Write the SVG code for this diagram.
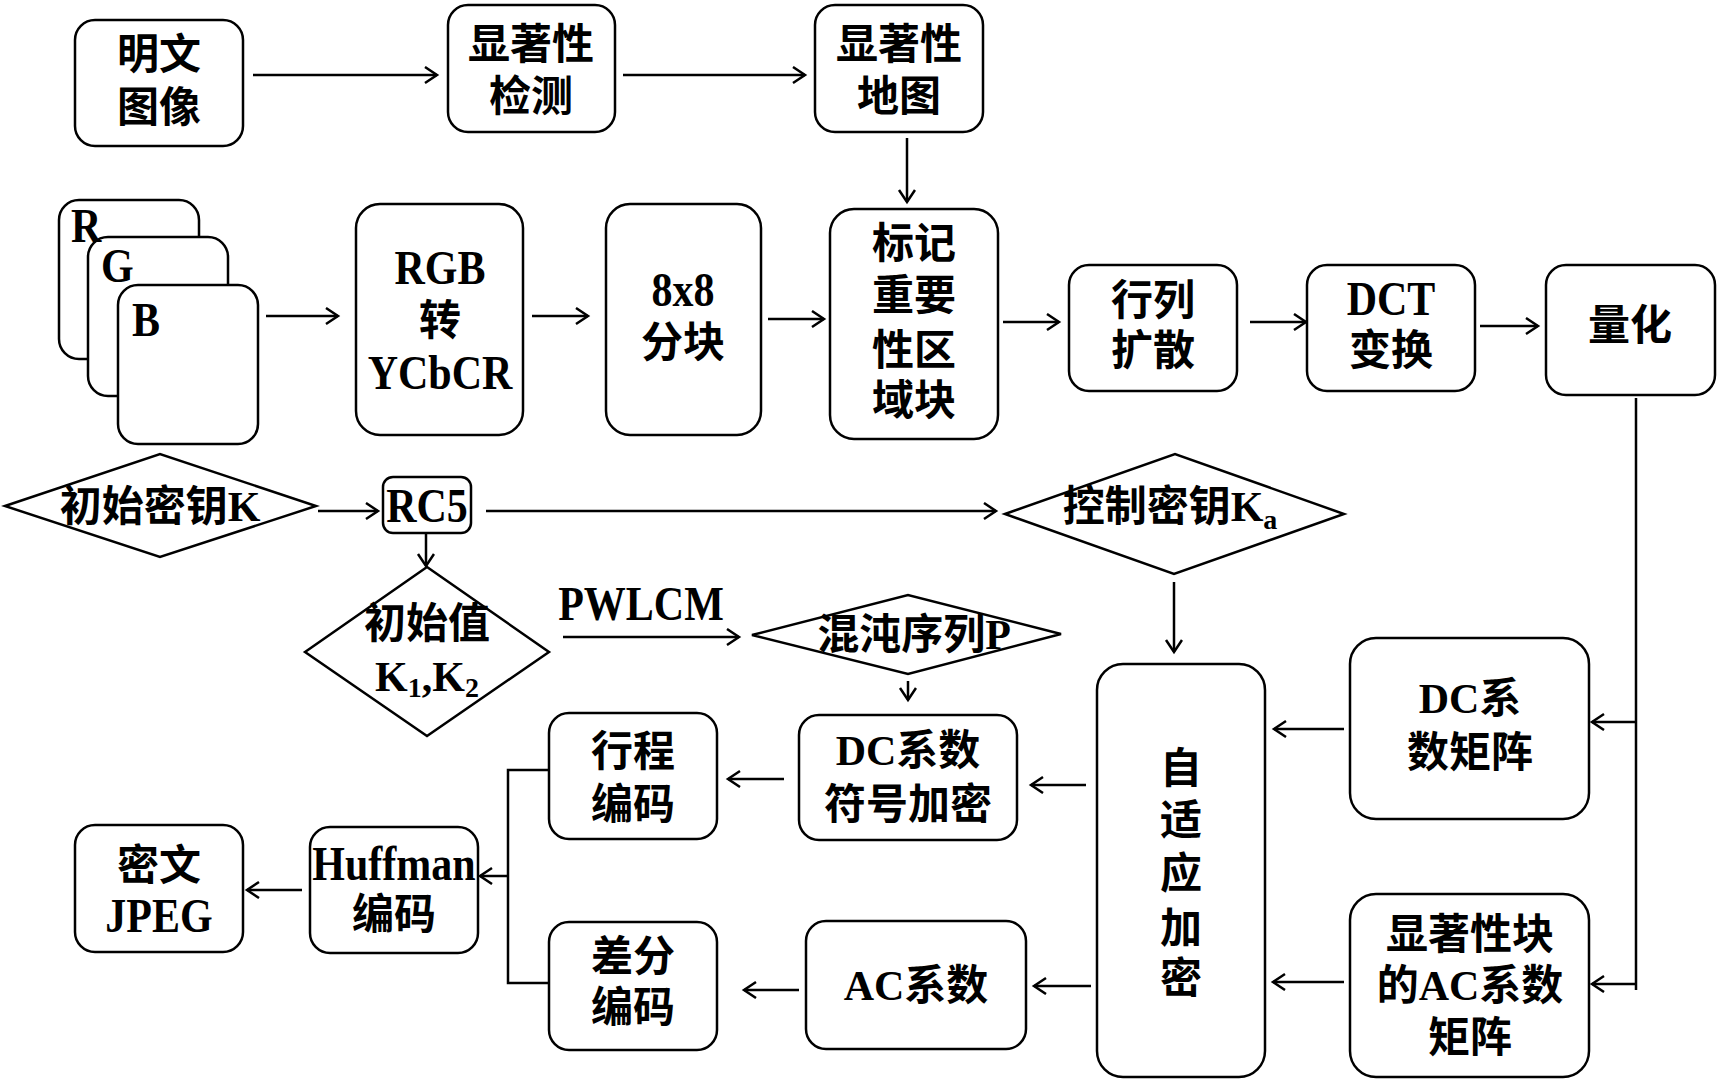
<svg xmlns="http://www.w3.org/2000/svg" width="1722" height="1083" viewBox="0 0 1722 1083">
<style>
.b{fill:#fff;stroke:#000;stroke-width:2.5}
.c{fill:none;stroke:#000;stroke-width:2.5}
.t{font-family:"Liberation Serif","Noto Sans CJK SC",serif;font-weight:bold;font-size:42px;text-anchor:middle;dominant-baseline:central;fill:#000}
.l{font-family:"Liberation Serif",serif;font-weight:bold;font-size:42px;fill:#000}
.v{transform-box:fill-box;transform-origin:center;transform:scaleY(1.15)}
</style>
<defs>
<marker id="a" markerUnits="userSpaceOnUse" markerWidth="20" markerHeight="20" refX="13" refY="9" orient="auto">
<path d="M1,1 L13,9 L1,17" fill="none" stroke="#000" stroke-width="2.5"/>
</marker>
</defs>
<rect width="1722" height="1083" fill="#fff"/>
<g id="connectors" class="c">
<line x1="253" y1="75" x2="437" y2="75" marker-end="url(#a)"/>
<line x1="623" y1="75" x2="805" y2="75" marker-end="url(#a)"/>
<line x1="907" y1="138" x2="907" y2="202" marker-end="url(#a)"/>
<line x1="266" y1="316" x2="338" y2="316" marker-end="url(#a)"/>
<line x1="532" y1="316" x2="588" y2="316" marker-end="url(#a)"/>
<line x1="768" y1="319" x2="824" y2="319" marker-end="url(#a)"/>
<line x1="1003" y1="322" x2="1059" y2="322" marker-end="url(#a)"/>
<line x1="1250" y1="322" x2="1306" y2="322" marker-end="url(#a)"/>
<line x1="1480" y1="326" x2="1538" y2="326" marker-end="url(#a)"/>
<line x1="318" y1="511" x2="378" y2="511" marker-end="url(#a)"/>
<line x1="486" y1="511" x2="996" y2="511" marker-end="url(#a)"/>
<line x1="426" y1="533" x2="426" y2="566" marker-end="url(#a)"/>
<line x1="563" y1="637" x2="739" y2="637" marker-end="url(#a)"/>
<line x1="908" y1="681" x2="908" y2="700" marker-end="url(#a)"/>
<line x1="1174" y1="582" x2="1174" y2="652" marker-end="url(#a)"/>
<polyline points="1636,398 1636,990"/>
<line x1="1636" y1="722" x2="1592" y2="722" marker-end="url(#a)"/>
<line x1="1636" y1="984" x2="1592" y2="984" marker-end="url(#a)"/>
<line x1="1344" y1="729" x2="1274" y2="729" marker-end="url(#a)"/>
<line x1="1344" y1="982" x2="1273" y2="982" marker-end="url(#a)"/>
<line x1="1086" y1="785" x2="1031" y2="785" marker-end="url(#a)"/>
<line x1="1091" y1="986" x2="1034" y2="986" marker-end="url(#a)"/>
<line x1="784" y1="779" x2="728" y2="779" marker-end="url(#a)"/>
<line x1="799" y1="990" x2="744" y2="990" marker-end="url(#a)"/>
<polyline points="549,770 508,770 508,983 549,983"/>
<line x1="508" y1="876" x2="480" y2="876" marker-end="url(#a)"/>
<line x1="302" y1="890" x2="247" y2="890" marker-end="url(#a)"/>
</g>
<g id="n_plain"><rect class="b" x="75" y="20" width="168" height="126" rx="20"/><text class="t" x="159" y="55">明文</text><text class="t" x="159" y="108">图像</text></g>
<g id="n_detect"><rect class="b" x="448" y="5" width="167" height="127" rx="20"/><text class="t" x="531" y="45">显著性</text><text class="t" x="531" y="97">检测</text></g>
<g id="n_map"><rect class="b" x="815" y="5" width="168" height="127" rx="20"/><text class="t" x="899" y="45">显著性</text><text class="t" x="899" y="97">地图</text></g>
<g id="n_rgbstack">
<rect class="b" x="59" y="200" width="140" height="159" rx="20"/>
<rect class="b" x="88" y="237" width="140" height="159" rx="20"/>
<rect class="b" x="118" y="285" width="140" height="159" rx="20"/>
<text class="l v" x="71" y="240">R</text><text class="l v" x="101" y="280">G</text><text class="l v" x="132" y="334">B</text>
</g>
<g id="n_rgb"><rect class="b" x="356" y="204" width="167" height="231" rx="24"/><text class="t v" x="440" y="268">RGB</text><text class="t" x="440" y="321">转</text><text class="t v" x="440" y="373">YCbCR</text></g>
<g id="n_block"><rect class="b" x="606" y="204" width="155" height="231" rx="24"/><text class="t v" x="683" y="290">8x8</text><text class="t" x="683" y="343">分块</text></g>
<g id="n_mark"><rect class="b" x="830" y="209" width="168" height="230" rx="24"/><text class="t" x="914" y="244">标记</text><text class="t" x="914" y="296">重要</text><text class="t" x="914" y="351">性区</text><text class="t" x="914" y="401">域块</text></g>
<g id="n_diff"><rect class="b" x="1069" y="265" width="168" height="126" rx="20"/><text class="t" x="1153" y="301">行列</text><text class="t" x="1153" y="351">扩散</text></g>
<g id="n_dct"><rect class="b" x="1307" y="265" width="168" height="126" rx="20"/><text class="t v" x="1391" y="299">DCT</text><text class="t" x="1391" y="351">变换</text></g>
<g id="n_quant"><rect class="b" x="1546" y="265" width="169" height="130" rx="20"/><text class="t" x="1630" y="326">量化</text></g>
<g id="n_key"><polygon class="b" points="5,506 160,454 316,506 160,557"/><text class="t" x="160" y="507">初始密钥K</text></g>
<g id="n_rc5"><rect class="b" x="383" y="477" width="88" height="56" rx="10"/><text class="t v" x="427" y="506">RC5</text></g>
<g id="n_ctrl"><polygon class="b" points="1005,514 1175,454 1344,514 1174,574"/><text class="t" x="1170" y="507">控制密钥K<tspan font-size="28" dy="12">a</tspan></text></g>
<g id="n_init"><polygon class="b" points="305,652 427,567 549,652 427,736"/><text class="t" x="427" y="624">初始值</text><text class="t" x="427" y="677">K<tspan font-size="28" dy="10">1</tspan><tspan dy="-10">,K</tspan><tspan font-size="28" dy="10">2</tspan></text></g>
<text id="lbl_pwlcm" class="t v" x="641" y="604">PWLCM</text>
<g id="n_chaos"><polygon class="b" points="752,635 908,595 1061,634 908,674"/><text class="t" x="914" y="635">混沌序列P</text></g>
<g id="n_rle"><rect class="b" x="549" y="713" width="168" height="126" rx="20"/><text class="t" x="633" y="752">行程</text><text class="t" x="633" y="805">编码</text></g>
<g id="n_dcsign"><rect class="b" x="799" y="715" width="218" height="125" rx="20"/><text class="t" x="908" y="751">DC系数</text><text class="t" x="908" y="805">符号加密</text></g>
<g id="n_adapt"><rect class="b" x="1097" y="664" width="168" height="413" rx="26"/><text class="t" x="1181" y="769">自</text><text class="t" x="1181" y="821">适</text><text class="t" x="1181" y="874">应</text><text class="t" x="1181" y="929">加</text><text class="t" x="1181" y="979">密</text></g>
<g id="n_dcm"><rect class="b" x="1350" y="638" width="239" height="181" rx="26"/><text class="t" x="1470" y="699">DC系</text><text class="t" x="1470" y="753">数矩阵</text></g>
<g id="n_acm"><rect class="b" x="1350" y="894" width="239" height="183" rx="26"/><text class="t" x="1470" y="935">显著性块</text><text class="t" x="1470" y="986">的AC系数</text><text class="t" x="1470" y="1038">矩阵</text></g>
<g id="n_cipher"><rect class="b" x="75" y="825" width="168" height="127" rx="20"/><text class="t" x="159" y="866">密文</text><text class="t v" x="159" y="916">JPEG</text></g>
<g id="n_huff"><rect class="b" x="310" y="827" width="168" height="126" rx="20"/><text class="t v" x="394" y="864">Huffman</text><text class="t" x="394" y="915">编码</text></g>
<g id="n_dpcm"><rect class="b" x="549" y="922" width="168" height="128" rx="20"/><text class="t" x="633" y="957">差分</text><text class="t" x="633" y="1008">编码</text></g>
<g id="n_ac"><rect class="b" x="806" y="921" width="220" height="128" rx="20"/><text class="t" x="916" y="986">AC系数</text></g>
</svg>
